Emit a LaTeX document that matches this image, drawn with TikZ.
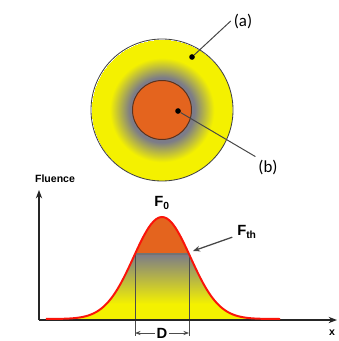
\documentclass[tikz,border=0pt]{standalone}
\usepackage{fontspec}
\setmainfont{Liberation Sans}
\newfontfamily\calibrifont{Carlito}
\usetikzlibrary{arrows.meta}

\definecolor{spotyellow}{RGB}{244,241,0}
\definecolor{spotgray}{RGB}{124,124,136}
\definecolor{coreorange}{RGB}{228,100,30}
\definecolor{corerim}{RGB}{90,50,30}
\definecolor{leadgray}{RGB}{70,70,70}
\definecolor{curvered}{RGB}{250,20,10}
\pgfdeclareradialshading{spotglow}{\pgfpoint{0bp}{0bp}}{color(0bp)=(spotgray); color(23bp)=(spotgray); color(37bp)=(spotyellow); color(50bp)=(spotyellow)}

\begin{document}
\begin{tikzpicture}[x=0.025cm, y=-0.025cm,
  tag/.style={font=\calibrifont\fontsize{12}{14}\selectfont, inner sep=2pt},
  axislabel/.style={font=\bfseries\fontsize{7.5}{9}\selectfont},
  biglabel/.style={font=\bfseries\fontsize{10.5}{12}\selectfont},
  leader/.style={draw=leadgray, line width=0.7pt},
  axis/.style={draw=black!85, line width=0.9pt, -{Stealth[length=6pt,width=4.5pt]}},
  guide/.style={draw=black!70, line width=0.4pt},
  dot/.style={circle, fill=black, inner sep=0pt, minimum size=4pt}]
  \useasboundingbox (0,0) rectangle (339,341);

  % spot seen from above
  \coordinate (spot) at (162,110);
  \begin{scope}
    \clip (spot) circle (71);
    \node[inner sep=0pt] (glow) at (spot) {\pgfuseshading{spotglow}};
  \end{scope}
  \draw[black!75, line width=0.6pt] (spot) circle (71);
  \draw[fill=coreorange, draw=corerim, line width=0.7pt] (spot) circle (29.5);

  \node[dot] (pa) at (192,57) {};
  \node[dot] (pb) at (178,111) {};
  \node[tag] (la) at (243,21) {(a)};
  \node[tag] (lb) at (268,167) {(b)};
  \draw[leader] (pa) -- (la.west);
  \draw[leader] (pb) -- (lb.north west);

  % fluence profile
  \begin{scope}
    \clip plot[domain=-116:118, samples=90, smooth] ({162+\x},{319-102*exp(-\x*\x/1616)}) -- cycle;
    \fill[spotyellow] (40,300) rectangle (290,321);
    \shade[top color=spotgray, bottom color=spotyellow] (40,254) rectangle (290,304);
    \fill[coreorange] (40,200) rectangle (290,254);
  \end{scope}

  \coordinate (tl) at (135,254);
  \coordinate (tr) at (189,254);
  \coordinate (bl) at (135,336);
  \coordinate (br) at (189,336);
  \draw[guide] (tl) -- (bl);
  \draw[guide] (tr) -- (br);
  \draw[draw=black!55, line width=0.9pt] (tl) -- (tr);

  \coordinate (orig) at (39,320);
  \coordinate (ytop) at (39,190);
  \coordinate (xend) at (337,320);
  \draw[axis] (orig) -- (ytop);
  \draw[axis] (orig) -- (xend);

  \draw[curvered, line width=1.4pt] plot[domain=-116:118, samples=90, smooth] ({162+\x},{319-102*exp(-\x*\x/1616)});

  \node[axislabel] (flu) at (55,179) {Fluence};
  \node[axislabel] (xlab) at (332,333) {x};
  \node[biglabel] (fzero) at (162,203) {F\textsubscript{0}};
  \node[biglabel] (fth) at (247,232) {F\textsubscript{th}};
  \coordinate (thr) at (193,251);
  \draw[leadgray, line width=0.9pt, -{Stealth[length=5pt,width=4pt]}] (fth) -- (thr);

  \node[biglabel, inner sep=1pt] (dlab) at (162,333) {D};
  \coordinate (dl) at (135,333);
  \coordinate (dr) at (189,333);
  \draw[guide, line width=0.6pt, -{Stealth[length=4pt,width=3pt]}] (dlab) -- (dl);
  \draw[guide, line width=0.6pt, -{Stealth[length=4pt,width=3pt]}] (dlab) -- (dr);
\end{tikzpicture}
\end{document}
